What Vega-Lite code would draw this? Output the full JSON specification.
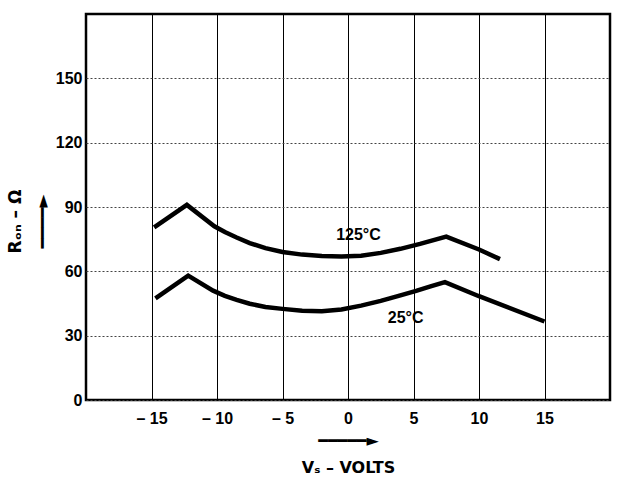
{
  "$schema": "https://vega.github.io/schema/vega-lite/v6.json",
  "autosize": {"type": "none"},
  "padding": {"left": 86, "top": 14, "right": 9, "bottom": 81},
  "width": 524,
  "height": 386,
  "background": "white",
  "config": {
    "view": {"stroke": "black", "strokeWidth": 2.5},
    "font": "Liberation Sans",
    "axis": {
      "labelFont": "Liberation Sans",
      "labelFontWeight": "bold",
      "labelFontSize": 16,
      "labelColor": "black",
      "titleFont": "DejaVu Sans",
      "titleFontWeight": "bold",
      "titleFontSize": 16,
      "titleColor": "black",
      "ticks": false,
      "domain": false
    }
  },
  "datasets": {
    "curves": [
      {"v": -14.8, "r": 80.5, "temp": "125°C"},
      {"v": -12.3, "r": 91, "temp": "125°C"},
      {"v": -10.2, "r": 81, "temp": "125°C"},
      {"v": -9.4, "r": 78.3, "temp": "125°C"},
      {"v": -8.5, "r": 75.8, "temp": "125°C"},
      {"v": -7.5, "r": 73.2, "temp": "125°C"},
      {"v": -6.3, "r": 70.8, "temp": "125°C"},
      {"v": -5, "r": 69, "temp": "125°C"},
      {"v": -3.5, "r": 67.8, "temp": "125°C"},
      {"v": -2, "r": 67.1, "temp": "125°C"},
      {"v": -0.5, "r": 66.9, "temp": "125°C"},
      {"v": 1, "r": 67.3, "temp": "125°C"},
      {"v": 2.5, "r": 68.6, "temp": "125°C"},
      {"v": 4, "r": 70.5, "temp": "125°C"},
      {"v": 5.5, "r": 72.8, "temp": "125°C"},
      {"v": 7.5, "r": 76.2, "temp": "125°C"},
      {"v": 10, "r": 70.2, "temp": "125°C"},
      {"v": 11.6, "r": 65.7, "temp": "125°C"},
      {"v": -14.7, "r": 47.4, "temp": "25°C"},
      {"v": -12.2, "r": 58, "temp": "25°C"},
      {"v": -10.3, "r": 51, "temp": "25°C"},
      {"v": -9.4, "r": 48.6, "temp": "25°C"},
      {"v": -8.5, "r": 46.7, "temp": "25°C"},
      {"v": -7.5, "r": 44.9, "temp": "25°C"},
      {"v": -6.3, "r": 43.4, "temp": "25°C"},
      {"v": -5, "r": 42.5, "temp": "25°C"},
      {"v": -3.5, "r": 41.6, "temp": "25°C"},
      {"v": -2, "r": 41.4, "temp": "25°C"},
      {"v": -0.5, "r": 42.2, "temp": "25°C"},
      {"v": 1, "r": 44, "temp": "25°C"},
      {"v": 2.5, "r": 46.2, "temp": "25°C"},
      {"v": 4, "r": 48.8, "temp": "25°C"},
      {"v": 5.2, "r": 50.9, "temp": "25°C"},
      {"v": 6.3, "r": 53, "temp": "25°C"},
      {"v": 7.4, "r": 55, "temp": "25°C"},
      {"v": 10, "r": 48.4, "temp": "25°C"},
      {"v": 15, "r": 36.6, "temp": "25°C"}
    ],
    "labels": [
      {"v": 0.8, "r": 77, "text": "125°C"},
      {"v": 4.4, "r": 38.3, "text": "25°C"}
    ]
  },
  "layer": [
    {
      "data": {"name": "curves"},
      "mark": {"type": "line", "color": "black", "strokeWidth": 4.5, "strokeJoin": "miter", "strokeCap": "butt"},
      "encoding": {
        "x": {
          "field": "v", "type": "quantitative",
          "scale": {"domain": [-20, 20], "nice": false},
          "axis": {
            "values": [-15, -10, -5, 0, 5, 10, 15],
            "labelExpr": "datum.value < 0 ? '– ' + abs(datum.value) : datum.label",
            "labelPadding": 10,
            "grid": true,
            "gridColor": "black",
            "gridWidth": 1,
            "gridOpacity": 1,
            "title": ["━━━━━►", "Vₛ – VOLTS"],
            "titleLineHeight": 27,
            "titlePadding": 6
          }
        },
        "y": {
          "field": "r", "type": "quantitative",
          "scale": {"domain": [0, 180], "nice": false},
          "axis": {
            "values": [0, 30, 60, 90, 120, 150],
            "labelPadding": 4,
            "grid": true,
            "gridColor": "#444444",
            "gridWidth": 1,
            "gridDash": [2, 2],
            "gridOpacity": 1,
            "title": ["Rₒₙ – Ω", "━━━━►"],
            "titleFontSize": 17,
            "titleLineHeight": 27,
            "titlePadding": 4,
            "titleY": 207
          }
        },
        "detail": {"field": "temp"}
      }
    },
    {
      "data": {"name": "labels"},
      "mark": {"type": "text", "font": "Liberation Sans", "fontWeight": "bold", "fontSize": 16, "color": "black"},
      "encoding": {
        "x": {"field": "v", "type": "quantitative"},
        "y": {"field": "r", "type": "quantitative"},
        "text": {"field": "text"}
      }
    }
  ]
}
